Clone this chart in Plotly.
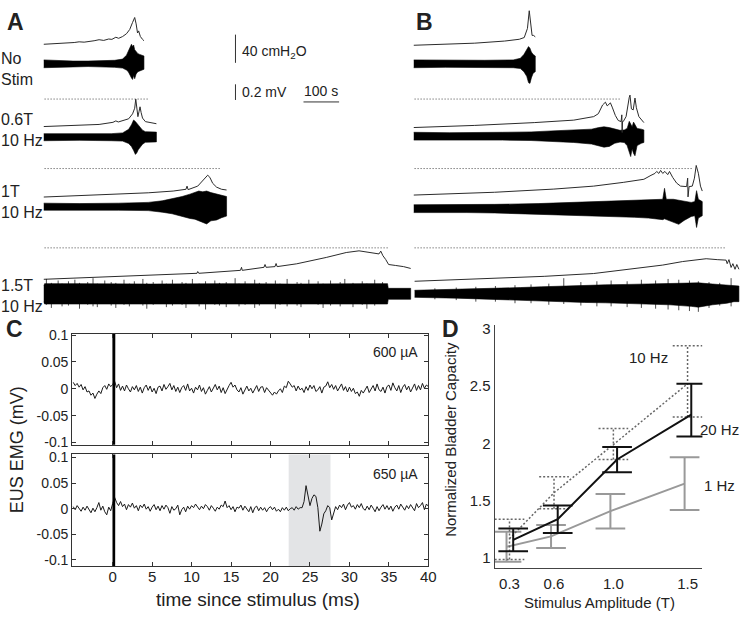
import numpy as np
import plotly.graph_objects as go

FONT = "Arial, Liberation Sans, Helvetica, sans-serif"

# ---------------- A / B: bladder pressure (cmH2O) and EUS EMG envelope (mV) vs time (s)
# A rows: No Stim, 0.6T 10 Hz, 1T 10 Hz, 1.5T 10 Hz
a1_t = [0, 44, 86, 100, 114, 142, 156, 169, 183, 192, 203, 211, 222, 233, 242, 250, 256, 260, 264, 267, 272, 278, 282]
a1_p = [4, 5, 6.5, 7.5, 7, 9, 10.5, 9.5, 11.5, 11, 14, 12.5, 15, 19, 25, 35, 42, 33, 20, 23, 15, 11, 9]
a1e_t = [0, 20, 44, 83, 125, 167, 200, 222, 233, 238, 242, 247, 250, 253, 256, 260, 265, 270, 276, 282]
a1e_hi = [.05, .045, .045, .035, .035, .04, .045, .06, .11, .16, .2, .25, .22, .24, .18, .15, .13, .12, .11, .1]
a1e_lo = [-.05, -.05, -.045, -.04, -.035, -.04, -.045, -.055, -.08, -.1, -.14, -.18, -.2, -.15, -.19, -.13, -.1, -.09, -.08, -.07]

a2_t = [0, 100, 156, 195, 203, 210, 225, 239, 250, 256, 259, 262, 265, 268, 271, 274, 278, 286, 300, 317]
a2_p = [4, 5.5, 7, 10, 12, 10.5, 12.5, 15, 22, 30, 43, 28, 18, 25, 32, 24, 16, 11, 10, 8]
a2e_t = [0, 100, 190, 222, 239, 247, 253, 258, 262, 266, 272, 278, 286, 300, 317]
a2e_hi = [.045, .04, .045, .055, .1, .16, .22, .2, .18, .15, .12, .09, .07, .065, .065]
a2e_lo = [-.045, -.04, -.045, -.05, -.08, -.12, -.17, -.22, -.2, -.16, -.12, -.09, -.065, -.06, -.06]

a3_t = [0, 100, 211, 294, 364, 400, 403, 406, 433, 450, 461, 467, 475, 486, 500, 514]
a3_p = [4, 6, 8, 10, 12.5, 15, 19.5, 14.5, 19.5, 28, 35, 32, 23.5, 18, 15, 14]
a3e_t = [0, 100, 211, 294, 333, 361, 389, 411, 425, 436, 447, 458, 470, 486, 500, 514]
a3e_hi = [.045, .04, .045, .055, .075, .1, .13, .16, .18, .2, .19, .2, .18, .16, .15, .13]
a3e_lo = [-.045, -.04, -.045, -.05, -.07, -.09, -.12, -.15, -.16, -.18, -.2, -.22, -.18, -.17, -.14, -.12]

a4_t = [0, 156, 294, 431, 433, 436, 553, 556, 558, 619, 622, 625, 650, 653, 656, 711, 794, 850, 886, 919, 942, 947, 953, 961, 969, 989, 1011, 1031]
a4_p = [4, 7, 9.7, 12.5, 15, 12.5, 16.7, 21, 16.7, 21, 25, 21, 22, 26.4, 22, 26, 35, 42, 44.4, 42, 40, 44, 37.5, 32, 25, 23.6, 22, 19.4]
a4e_t = [0, 3, 100, 300, 500, 700, 900, 966, 968, 1031]
a4e_hi = [.1, .13, .13, .125, .13, .125, .13, .13, .07, .07]
a4e_lo = [-.1, -.13, -.13, -.125, -.13, -.125, -.13, -.13, -.07, -.07]
a4s_t = [8, 22, 41, 52, 70, 88, 101, 124, 139, 151, 172, 190, 203, 226, 241, 255, 279, 290, 308, 333,
         345, 362, 389, 400, 418, 437, 455, 481, 494, 513, 538, 549, 566, 593, 606, 625, 651, 664, 684, 712,
         723, 745, 771, 785, 806, 833, 846, 869, 895, 908, 930, 952]
a4s_up = [.19, .14, .17, .13, .16, .18, .14, .15, .2, .13, .17, .15, .14, .18, .13, .16, .19, .14, .15, .17,
          .13, .18, .15, .14, .19, .13, .16, .17, .14, .15, .2, .13, .16, .18, .14, .15, .17, .13, .19, .15,
          .14, .18, .16, .13, .17, .15, .19, .14, .16, .13, .18, .15]
a4s_dn = [-.14, -.18, -.13, -.16, -.15, -.13, -.19, -.14, -.16, -.17, -.13, -.15, -.18, -.14, -.16, -.13, -.15, -.19, -.14, -.13,
          -.17, -.15, -.14, -.18, -.13, -.16, -.2, -.14, -.15, -.17, -.13, -.16, -.14, -.18, -.15, -.13, -.19, -.14, -.16, -.15,
          -.17, -.13, -.14, -.18, -.15, -.16, -.13, -.17, -.14, -.19, -.15, -.13]

# B rows (second animal)
b1_t = [0, 89, 172, 256, 297, 311, 320, 325, 329, 333, 337, 342]
b1_p = [4, 6, 7, 10, 12.5, 15, 28, 53, 30, 18, 18, 16]
b1e_t = [0, 89, 200, 280, 300, 310, 318, 323, 327, 331, 336, 342]
b1e_hi = [.05, .045, .045, .05, .07, .12, .18, .22, .2, .15, .12, .1]
b1e_lo = [-.05, -.045, -.045, -.05, -.06, -.1, -.16, -.24, -.25, -.18, -.12, -.1]

b2_t = [0, 172, 339, 450, 506, 519, 531, 539, 544, 553, 558, 567, 575, 583, 585, 586, 587, 589, 597, 606, 608, 612, 617, 622, 626, 633, 647]
b2_p = [4, 7, 11, 14.5, 19.5, 23.6, 36, 40, 34.7, 39, 33, 21, 14, 12.5, 22, -3, 12.5, 12.5, 19.5, 47, 50, 30.5, 29, 45.8, 32, 19.5, 11]
b2e_t = [0, 100, 250, 330, 400, 450, 500, 520, 535, 550, 565, 580, 592, 600, 606, 610, 614, 618, 622, 628, 640, 647]
b2e_hi = [.05, .045, .05, .055, .07, .08, .09, .11, .12, .11, .09, .075, .08, .1, .19, .15, .12, .18, .14, .1, .09, .08]
b2e_lo = [-.05, -.045, -.05, -.055, -.07, -.08, -.1, -.12, -.14, -.13, -.09, -.075, -.08, -.12, -.2, -.26, -.16, -.22, -.25, -.12, -.09, -.08]

b3_t = [0, 228, 394, 506, 589, 647, 667, 678, 683, 689, 694, 700, 706, 714, 719, 728, 739, 750, 767, 770, 771, 772, 774, 783, 789, 794, 800, 806, 811]
b3_p = [4, 8, 12.5, 16.7, 22, 26.4, 32, 34.7, 37.5, 34.7, 39, 34.7, 37.5, 33, 37.5, 29, 21, 16.7, 16, 28, 1.4, 16, 16, 16.7, 28, 46, 35, 16.7, 9.7]
b3e_t = [0, 150, 228, 350, 450, 550, 620, 660, 700, 705, 710, 730, 745, 760, 780, 790, 795, 800, 806, 811]
b3e_hi = [.05, .05, .055, .065, .08, .09, .1, .11, .12, .26, .12, .12, .11, .1, .08, .09, .23, .12, .1, .09]
b3e_lo = [-.05, -.05, -.055, -.065, -.08, -.1, -.11, -.12, -.14, -.13, -.14, -.17, -.2, -.15, -.1, -.09, -.24, -.12, -.1, -.09]

b4_t = [3, 228, 367, 506, 617, 700, 756, 822, 853, 878, 881, 886, 892, 897, 903, 908, 914]
b4_p = [4, 8, 11, 15, 21.5, 27, 32, 36, 34.7, 34, 29, 34.7, 23.6, 29, 21, 27.8, 21]
b4e_t = [3, 60, 120, 180, 240, 300, 360, 420, 480, 540, 600, 660, 720, 780, 800, 840, 880, 900, 914]
b4e_hi = [.045, .05, .055, .06, .07, .08, .09, .1, .11, .115, .12, .125, .13, .135, .14, .125, .11, .1, .1]
b4e_lo = [-.045, -.05, -.055, -.06, -.07, -.08, -.09, -.1, -.11, -.115, -.12, -.13, -.14, -.16, -.17, -.14, -.12, -.1, -.1]
b4s_t = [60, 120, 175, 230, 285, 330, 380, 422, 470, 515, 555, 600, 640, 680, 715, 745, 775, 800, 830, 860, 892]
b4s_up = [.07, .08, .09, .1, .11, .12, .13, .2, .15, .16, .17, .16, .18, .17, .19, .18, .17, .16, .15, .14, .2]
b4s_dn = [-.07, -.08, -.1, -.1, -.12, -.12, -.14, -.13, -.15, -.16, -.16, -.17, -.18, -.19, -.2, -.21, -.22, -.23, -.18, -.15, -.16]

# end of the control (No Stim) capacity reference lines, s
a_ref_end = [294, 497, 967]
b_ref_end = [581, 781, 878]

SCALE_P = 40    # cmH2O
SCALE_E = 0.2   # mV
SCALE_T = 100   # s

# ---------------- C: EUS EMG after a single stimulus (uV), sampled every 0.25 ms
c_t = np.round(np.arange(-5, 40.001, 0.25), 2)
c600 = [12, 6, 10, 3, 8, -2, 4, -6, -4, -12, -8, -18, -10, -4, -9, 2, 6, -1, 9, 4,
        8, 14, 2, 9, -3, 5, -4, 7, 0, -6, 4, -2, 6, -5, 3, -8, 2, 7, -3, 5,
        -6, 1, -9, 3, 5, -4, 8, -1, 4, 10, -2, 6, -5, 3, -7, 2, 6, -3, 9, -4,
        1, -8, 3, -2, 7, -5, 2, -10, -3, 4, -6, 1, 8, -2, 5, -7, 2, -9, 0, 6,
        12, 3, 7, -2, -6, 2, -10, -3, 5, -4, 1, -8, -2, 6, -5, 3, 4, -7, 2, -3,
        -8, -12, -6, -10, -4, 0, -7, 5, 2, 14, 9, 3, 6, -4, 5, -2, 1, -7, 4, -3,
        7, 0, 6, -5, -2, 4, -8, 3, 5, 13, 2, 8, -1, 6, -4, 2, 9, -3, 4, -6,
        3, -5, 1, -9, -6, -14, -3, -8, -2, 5, -7, 1, 6, -4, 9, -2, -5, 3, -8, 4,
        7, -3, 11, 2, -4, 6, -7, 3, 8, -2, 5, -6, 2, 9, -3, 6, -2, 10, 1, 7, 4]
c650 = [4, -2, 6, 0, -5, 3, -3, 5, -2, -8, 1, -6, 2, 12, -3, 5, -6, -12, 3, -4,
        10, 22, 12, 6, 14, 4, 9, -2, 8, 3, 11, 1, 6, -4, 7, 2, 9, -1, 4, -5,
        3, 8, -2, 5, -4, 6, -1, 7, 2, -9, 4, -3, 0, 7, -12, -2, 3, -6, 5, -1,
        6, 2, 9, 3, -2, 5, 0, 8, 4, -3, 6, 1, -5, 3, -1, 7, 4, 15, 2, 6,
        -2, 4, -6, 3, 1, 7, -3, 5, 0, -6, 4, -8, 2, 5, -4, 3, -3, 2, -6, 1,
        4, -2, 3, -5, -1, -6, 2, -3, 3, -4, 0, 2, -3, 4, -1, 2, 2, 14, 45, 24,
        6, 20, 27, 24, 2, -44, -30, -10, -4, 6, 2, -22, -8, 4, -2, 7, 2, 9, -2, 7,
        12, 3, 6, -1, 8, 2, 10, 0, -3, 5, -2, 7, 1, -6, 4, -4, 3, 8, -1, 6,
        -2, 5, -5, 3, 7, -1, 9, 2, -3, 6, 0, 8, 3, -4, 10, 2, 6, 12, -2, 9, 5]
stim_t = [0.05, 0.15, 0.25]
stim_mv = [0.6, -0.6, 0.6]
window_ms = [22.3, 27.6]

# ---------------- D: normalized bladder capacity vs stimulus amplitude
amp = [0.3, 0.6, 1.0, 1.5]
cap_20 = [1.16, 1.34, 1.86, 2.25]
cap_20_up = [0.10, 0.12, 0.11, 0.27]
cap_20_dn = [0.10, 0.12, 0.11, 0.19]
cap_10 = [1.17, 1.57, 1.99, 2.52]
cap_10_up = [0.17, 0.14, 0.14, 0.33]
cap_10_dn = [0.18, 0.14, 0.13, 0.29]
cap_1 = [1.10, 1.19, 1.41, 1.65]
cap_1_err = [0.13, 0.10, 0.15, 0.23]

# ---------------- layout constants
W, H = 748, 620
P_OFF_A = [380.6, 263.9, 163.9, 47.2]
P_OFF_B = [379.2, 262.5, 166.7, 44.4]
E_OFF_A = [356.9, 252.8, 154.2, 30.6]
E_OFF_B = [356.9, 254.2, 151.4, 30.6]
REF_Y = [306.9, 208.3, 95.8]
E_GAIN = 111.1   # display units per mV (0.2 mV bar vs 40 cmH2O bar)

fig = go.Figure()


def add_pressure(t, p, off, xa):
    fig.add_trace(go.Scatter(x=t, y=[off + v for v in p], xaxis=xa, yaxis="y", mode="lines",
                             line=dict(color="#2b2b2b", width=1), hoverinfo="skip"))


def add_emg(t, hi, lo, off, xa):
    xs = list(t) + list(t)[::-1]
    ys = [off + v * E_GAIN for v in hi] + [off + v * E_GAIN for v in lo][::-1]
    fig.add_trace(go.Scatter(x=xs, y=ys, xaxis=xa, yaxis="y", mode="lines", fill="toself",
                             fillcolor="#000", line=dict(color="#000", width=0.6), hoverinfo="skip"))


def add_spikes(t, up, dn, off, xa):
    xs, ys = [], []
    for ti, u, d in zip(t, up, dn):
        xs += [ti, ti, None]
        ys += [off + d * E_GAIN, off + u * E_GAIN, None]
    fig.add_trace(go.Scatter(x=xs, y=ys, xaxis=xa, yaxis="y", mode="lines",
                             line=dict(color="#000", width=0.7), hoverinfo="skip"))


rows_a = [(a1_t, a1_p, a1e_t, a1e_hi, a1e_lo), (a2_t, a2_p, a2e_t, a2e_hi, a2e_lo),
          (a3_t, a3_p, a3e_t, a3e_hi, a3e_lo), (a4_t, a4_p, a4e_t, a4e_hi, a4e_lo)]
rows_b = [(b1_t, b1_p, b1e_t, b1e_hi, b1e_lo), (b2_t, b2_p, b2e_t, b2e_hi, b2e_lo),
          (b3_t, b3_p, b3e_t, b3e_hi, b3e_lo), (b4_t, b4_p, b4e_t, b4e_hi, b4e_lo)]
for i, (pt, pp, et, ehi, elo) in enumerate(rows_a):
    add_emg(et, ehi, elo, E_OFF_A[i], "x")
    add_pressure(pt, pp, P_OFF_A[i], "x")
for i, (pt, pp, et, ehi, elo) in enumerate(rows_b):
    add_emg(et, ehi, elo, E_OFF_B[i], "x2")
    add_pressure(pt, pp, P_OFF_B[i], "x2")
add_spikes(a4s_t, a4s_up, a4s_dn, E_OFF_A[3], "x")
add_spikes(b4s_t, b4s_up, b4s_dn, E_OFF_B[3], "x2")

for xa, ends in (("x", a_ref_end), ("x2", b_ref_end)):
    for i, end in enumerate(ends):
        fig.add_trace(go.Scatter(x=[3, end], y=[REF_Y[i]] * 2, xaxis=xa, yaxis="y", mode="lines",
                                 line=dict(color="#444", width=1, dash="1px,2px"), hoverinfo="skip"))

# scale bars
bar_t, p_bar_y0, e_bar_y0, t_bar_t0, t_bar_y = 539, 358.3, 305.6, 730, 302.8
bar_line = dict(color="#333", width=1)
fig.add_trace(go.Scatter(x=[bar_t, bar_t], y=[p_bar_y0, p_bar_y0 + SCALE_P], xaxis="x", yaxis="y",
                         mode="lines", line=bar_line, hoverinfo="skip"))
fig.add_trace(go.Scatter(x=[bar_t, bar_t], y=[e_bar_y0, e_bar_y0 + SCALE_E * E_GAIN], xaxis="x", yaxis="y",
                         mode="lines", line=bar_line, hoverinfo="skip"))
fig.add_trace(go.Scatter(x=[t_bar_t0, t_bar_t0 + SCALE_T], y=[t_bar_y, t_bar_y], xaxis="x", yaxis="y",
                         mode="lines", line=bar_line, hoverinfo="skip"))

# ---- C traces
for xa, ya, vals in (("x3", "y3", c600), ("x4", "y4", c650)):
    fig.add_trace(go.Scatter(x=c_t, y=[v / 1000 for v in vals], xaxis=xa, yaxis=ya, mode="lines",
                             line=dict(color="#1a1a1a", width=1), hoverinfo="skip"))
    fig.add_trace(go.Scatter(x=stim_t, y=stim_mv, xaxis=xa, yaxis=ya, mode="lines",
                             line=dict(color="#000", width=2), hoverinfo="skip"))

fig.add_shape(type="rect", xref="x4", yref="y4 domain", x0=window_ms[0], x1=window_ms[1], y0=0, y1=1,
              fillcolor="#e3e4e6", line=dict(width=0), layer="below")


# ---- D traces
def errbars(x, m, up, dn, half):
    xs, ys = [], []
    for xi, mi, u, d in zip(x, m, up, dn):
        xs += [xi, xi, None, xi - half, xi + half, None, xi - half, xi + half, None]
        ys += [mi - d, mi + u, None, mi + u, mi + u, None, mi - d, mi - d, None]
    return xs, ys


series = [
    (cap_1, cap_1_err, cap_1_err, -0.02, dict(color="#999", width=2)),
    (cap_10, cap_10_up, cap_10_dn, 0.0, dict(color="#666", width=1.5, dash="2px,2px")),
    (cap_20, cap_20_up, cap_20_dn, 0.025, dict(color="#111", width=2)),
]
for m, up, dn, dx, ln in series:
    xx = [a + dx for a in amp]
    ex, ey = errbars(xx, m, up, dn, 0.1)
    fig.add_trace(go.Scatter(x=ex, y=ey, xaxis="x5", yaxis="y5", mode="lines", line=ln, hoverinfo="skip"))
    fig.add_trace(go.Scatter(x=xx, y=m, xaxis="x5", yaxis="y5", mode="lines", line=ln, hoverinfo="skip"))

# ---- axes
c_x = [73 / W, 433 / W]
c_xc = dict(range=[-5.125, 40], tickvals=list(range(0, 41, 5)), ticks="inside", ticklen=4,
            tickcolor="#333", showline=True, linecolor="#333", linewidth=1, mirror="ticks",
            showgrid=False, zeroline=False, tickfont=dict(size=15, color="#222"))
c_yc = dict(tickvals=[-0.1, -0.05, 0, 0.05, 0.1], ticktext=["-0.1", "-0.05", "0", "0.05", "0.1"],
            ticks="inside", ticklen=4, tickcolor="#333", showline=True, linecolor="#333", linewidth=1,
            mirror="ticks", showgrid=False, zeroline=False, tickfont=dict(size=14, color="#222"))
d_common = dict(showline=True, linecolor="#444", linewidth=1, ticks="", showgrid=False, zeroline=False,
                tickfont=dict(size=15, color="#222"))

fig.update_layout(
    width=W, height=H, margin=dict(l=0, r=0, t=0, b=0),
    paper_bgcolor="white", plot_bgcolor="white", showlegend=False,
    font=dict(family=FONT, color="#222"),
    xaxis=dict(domain=[44 / W, 418 / W], range=[0, 1039], visible=False, anchor="y"),
    xaxis2=dict(domain=[418 / W, 1], range=[0, 917], visible=False, anchor="y"),
    yaxis=dict(domain=[1 - 315 / H, 1], range=[0, 437.5], visible=False, anchor="x"),
    xaxis3=dict(domain=c_x, anchor="y3", showticklabels=False, **c_xc),
    yaxis3=dict(domain=[1 - 447 / H, 1 - 334 / H], range=[-0.104, 0.102], anchor="x3", **c_yc),
    xaxis4=dict(domain=c_x, anchor="y4", ticklabelstandoff=-3, **c_xc),
    yaxis4=dict(domain=[1 - 571 / H, 1 - 457 / H], range=[-0.112, 0.106], anchor="x4", **c_yc),
    xaxis5=dict(domain=[500 / W, 710 / W], range=[0.2, 1.6], anchor="y5", tickvals=amp,
                ticktext=["0.3", "0.6", "1.0", "1.5"], ticklabelstandoff=2, **d_common),
    yaxis5=dict(domain=[1 - 573 / H, 1 - 325 / H], range=[0.915, 3.03], anchor="x5",
                tickvals=[1, 1.5, 2, 2.5, 3], ticktext=["1", "1.5", "2", "2.5", "3"], **d_common),
)


def note(text, x, y, size=15, xanchor="left", xref="paper", yref="paper", **kw):
    fig.add_annotation(text=text, x=x, y=y, xref=xref, yref=yref, xanchor=xanchor, yanchor="middle",
                       showarrow=False, font=dict(family=FONT, size=size, color="#222"), **kw)


def px(xp, yp):
    return xp / W, 1 - yp / H


for letter, (lx, ly) in (("A", (5, 15)), ("B", (418, 15)), ("C", (4, 329)), ("D", (445, 329))):
    x_, y_ = px(lx, ly)
    note("<b>%s</b>" % letter, x_, y_, size=23)

for label, ly in (("No<br>Stim", 63), ("0.6T<br>10 Hz", 126), ("1T<br>10 Hz", 199), ("1.5T<br>10 Hz", 295)):
    x_, y_ = px(-1, ly)
    note(label, x_, y_, size=16, align="left")

note("40 cmH<sub>2</sub>O", 553, 374, size=14, xref="x", yref="y")
note("0.2 mV", 553, 316.7, size=14, xref="x", yref="y")
note("100 s", t_bar_t0 + SCALE_T / 2, 318, size=14, xanchor="center", xref="x", yref="y")

note("600 µA", 39, 0.068, size=14, xanchor="right", xref="x3", yref="y3")
note("650 µA", 39, 0.068, size=14, xanchor="right", xref="x4", yref="y4")

x_, y_ = px(17, 452)
note("EUS EMG (mV)", x_, y_, size=18, xanchor="center", textangle=-90)
x_, y_ = px(261, 605)
note("time since stimulus (ms)", x_, y_, size=19, xanchor="center")

x_, y_ = px(456, 442)
note("Normalized Bladder Capacity", x_, y_, size=15, xanchor="center", textangle=-90)
x_, y_ = px(606, 608)
note("Stimulus Amplitude (T)", x_, y_, size=15, xanchor="center")

note("10 Hz", 1.235, 2.745, size=15, xanchor="center", xref="x5", yref="y5")
note("20 Hz", 1.57, 2.12, size=15, xref="x5", yref="y5")
note("1 Hz", 1.6, 1.63, size=15, xref="x5", yref="y5")

fig.write_html("out.html", config={"displayModeBar": False},
               post_script="document.body.style.margin = '0px';")
